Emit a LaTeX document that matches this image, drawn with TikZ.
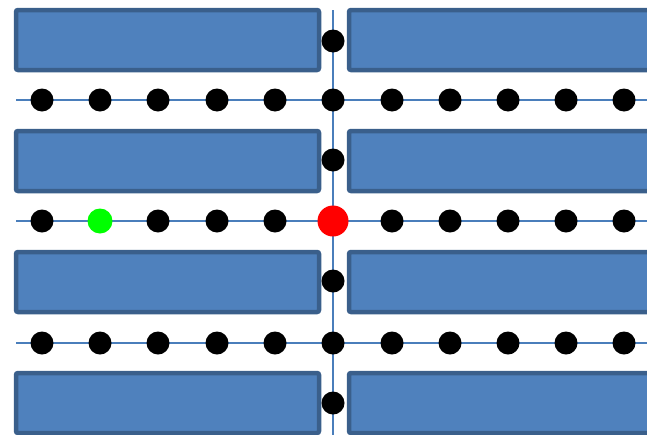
\documentclass[tikz,border=0pt]{standalone}
\begin{document}
\begin{tikzpicture}[x=1pt,y=-1pt,
  blockbox/.style={draw=blkborder,fill=blkfill,line width=4.5pt,rounded corners=2pt},
  railline/.style={draw=railblue,line width=1.5pt},
  dot/.style={circle,fill=black,inner sep=0pt,minimum size=23pt},
  reddot/.style={circle,fill=red,inner sep=0pt,minimum size=31pt},
  greendot/.style={circle,fill=green,inner sep=0pt,minimum size=25pt}]
\definecolor{blkfill}{HTML}{4F81BD}
\definecolor{blkborder}{HTML}{3A5F8B}
\definecolor{railblue}{HTML}{4A7EBB}
\useasboundingbox (0,0) rectangle (647,434);
\clip (0,0) rectangle (647,434);
% blocks
\foreach \t [count=\i] in {10,131,252,373}{
  \draw[blockbox] (16,\t) rectangle (319,\t+60);
  \draw[blockbox] (349,\t) rectangle (680,\t+60);
}
% lines
\coordinate (vtop) at (333,10);
\coordinate (vbot) at (333,440);
\draw[railline] (vtop) -- (vbot);
\foreach \y [count=\r] in {100,221,343}{
  \coordinate (hl\r) at (16,\y);
  \coordinate (hr\r) at (650,\y);
  \draw[railline] (hl\r) -- (hr\r);
}
% dots on horizontal lines
\foreach \y [count=\r] in {100,221,343}{
  \foreach \x [count=\c] in {42,100,158,217,275,333,392,450,508,566,624}{
    \node[dot] (d\r-\c) at (\x,\y) {};
  }
}
\node[greendot] (g) at (100,221) {};
\node[reddot] (rd) at (333,221) {};
% dots on vertical line
\foreach \y [count=\k] in {41,160,281,403}{
  \node[dot] (v\k) at (333,\y) {};
}
\end{tikzpicture}
\end{document}
